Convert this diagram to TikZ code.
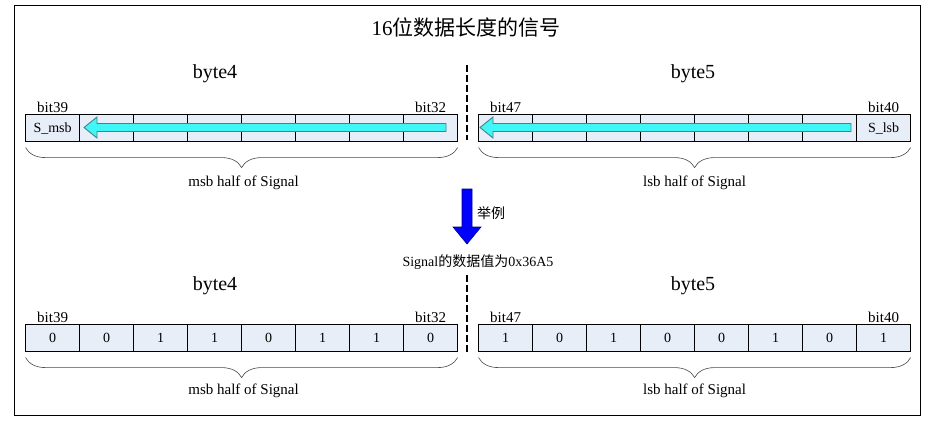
\documentclass[tikz,border=0pt]{standalone}
\usepackage{fontspec}
\setmainfont{Liberation Serif}
\newfontfamily\cjk{Noto Sans CJK SC}
\usepackage{tikz}
\usetikzlibrary{matrix}
\usetikzlibrary{positioning}
\usetikzlibrary{calc}
\usetikzlibrary{decorations.pathreplacing}
\definecolor{cellfill}{RGB}{232,238,247}
\definecolor{arrowcyan}{RGB}{64,246,246}
\definecolor{arrowedge}{RGB}{72,128,140}
\definecolor{bracegray}{RGB}{70,70,70}

\begin{document}
\begin{tikzpicture}[x=1pt,y=-1pt,
  bitrow/.style={
    matrix of nodes, nodes in empty cells,
    inner sep=0pt, column sep=-0.8pt, anchor=north west,
    nodes={draw, line width=0.8pt, fill=cellfill, minimum width=54pt, minimum height=27pt,
      inner sep=0pt, outer sep=0pt, anchor=center, font=\fontsize{14}{16}\selectfont},
  },
  bitlbl/.style={inner sep=1pt, font=\fontsize{15}{17}\selectfont},
  bytelbl/.style={font=\fontsize{20}{24}\selectfont},
  halflbl/.style={font=\fontsize{15}{17}\selectfont},
  sbrace/.style={decorate, decoration={brace, mirror, amplitude=20pt}, draw=bracegray, line width=0.6pt},
  sep/.style={line width=2.5pt, dash pattern=on 7pt off 3pt},
  cyanarrow/.style={fill=arrowcyan, draw=arrowedge, line width=0.9pt},
]
  \useasboundingbox (0,0) rectangle (932,433);

  % frame and title
  \draw[line width=1pt] (14,6) rectangle (920,415);
  \node[font=\fontsize{21}{25}\selectfont] (title) at (466,27) {16{\cjk 位数据长度的信号}};

  % ---- layout of the signal ----
  \node[bytelbl] (byteA4) at (215,74) {byte4};
  \node[bytelbl] (byteA5) at (693,74) {byte5};

  \matrix [bitrow] (msbA) at (25,114) {
    S\_msb & & & & & & & \\
  };
  \matrix [bitrow] (lsbA) at (478,114) {
    & & & & & & & S\_lsb \\
  };

  \node[bitlbl, above=1pt] at (msbA-1-1.north) {bit39};
  \node[bitlbl, above=1pt] at (msbA-1-8.north) {bit32};
  \node[bitlbl, above=1pt] at (lsbA-1-1.north) {bit47};
  \node[bitlbl, above=1pt] at (lsbA-1-8.north) {bit40};

  \draw[cyanarrow] (446,123.5) -- (97,123.5) -- (97,117) -- (84,127.5) -- (97,138) -- (97,131.5) -- (446,131.5) -- cycle;
  \draw[cyanarrow] (851,123.5) -- (493,123.5) -- (493,117) -- (480,127.5) -- (493,138) -- (493,131.5) -- (851,131.5) -- cycle;

  \draw[sbrace] ($(msbA-1-1.south west)+(0,6)$) -- ($(msbA-1-8.south east)+(0,6)$);
  \draw[sbrace] ($(lsbA-1-1.south west)+(0,6)$) -- ($(lsbA-1-8.south east)+(0,6)$);
  \node[halflbl] (msbAtxt) at ($(msbA.south)+(2,41)$) {msb half of Signal};
  \node[halflbl] (lsbAtxt) at ($(lsbA.south)+(0,41)$) {lsb half of Signal};

  \draw[sep] (467,65) -- (467,140);

  % example arrow
  \draw[fill=blue, draw={rgb,255:red,0;green,0;blue,130}, line width=0.6pt]
    (462,189) -- (472,189) -- (472,227) -- (481,227) -- (467,244) -- (453,227) -- (462,227) -- cycle;
  \node[font=\fontsize{14}{16}\selectfont\cjk] (ex) at (491,213) {举例};
  \node[font=\fontsize{14}{16}\selectfont] (value) at (478,262) {Signal{\cjk 的数据值为}0x36A5};

  % ---- value 0x36A5 ----
  \node[bytelbl] (byteB4) at (215,286) {byte4};
  \node[bytelbl] (byteB5) at (693,286) {byte5};

  \matrix [bitrow] (msbB) at (25,324) {
    0 & 0 & 1 & 1 & 0 & 1 & 1 & 0 \\
  };
  \matrix [bitrow] (lsbB) at (478,324) {
    1 & 0 & 1 & 0 & 0 & 1 & 0 & 1 \\
  };

  \node[bitlbl, above=1pt] at (msbB-1-1.north) {bit39};
  \node[bitlbl, above=1pt] at (msbB-1-8.north) {bit32};
  \node[bitlbl, above=1pt] at (lsbB-1-1.north) {bit47};
  \node[bitlbl, above=1pt] at (lsbB-1-8.north) {bit40};

  \draw[sbrace] ($(msbB-1-1.south west)+(0,6)$) -- ($(msbB-1-8.south east)+(0,6)$);
  \draw[sbrace] ($(lsbB-1-1.south west)+(0,6)$) -- ($(lsbB-1-8.south east)+(0,6)$);
  \node[halflbl] (msbBtxt) at ($(msbB.south)+(2,39)$) {msb half of Signal};
  \node[halflbl] (lsbBtxt) at ($(lsbB.south)+(0,39)$) {lsb half of Signal};

  \draw[sep] (467,275) -- (467,352);
\end{tikzpicture}
\end{document}
